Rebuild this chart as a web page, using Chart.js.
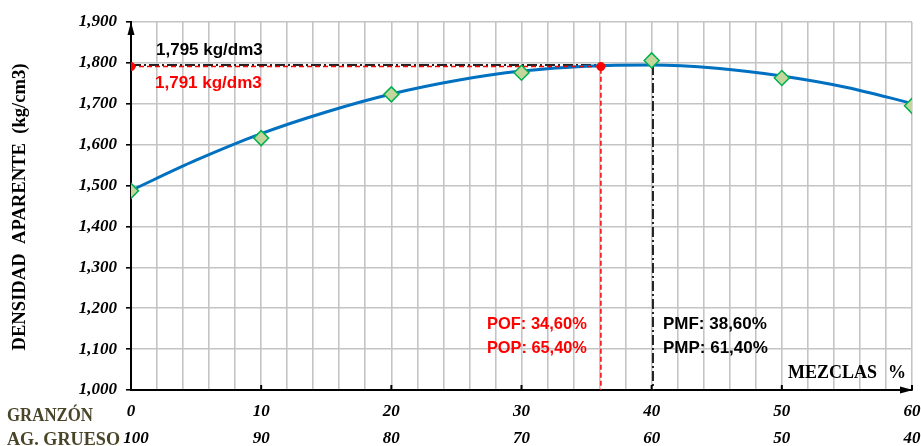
<!DOCTYPE html>
<html>
<head>
<meta charset="utf-8">
<script src="https://cdn.jsdelivr.net/npm/chart.js@4"></script>
<style>
  html, body { margin: 0; padding: 0; background: #fff; }
  #wrap { width: 921px; height: 446px; position: relative; }
</style>
</head>
<body>
<div id="wrap"><canvas id="densidadChart"></canvas></div>
<script>
// % de granzón en la mezcla y su complemento de agregado grueso
const mezclas = [0, 10, 20, 30, 40, 50, 60];
const agGrueso = [100, 90, 80, 70, 60, 50, 40];
// densidad aparente medida (kg/dm3)
const densidad = [1.487, 1.616, 1.723, 1.776, 1.806, 1.763, 1.695];
// curva de ajuste
const curvaX = [0, 5, 10, 15, 20, 25, 30, 35, 40, 45, 50, 55, 60];
const curvaY = [1.488, 1.562, 1.627, 1.680, 1.724, 1.757, 1.780, 1.792, 1.795, 1.787, 1.768, 1.740, 1.701];
// lineas guia
const optimoX = 36.1;
const optimoY = 1.791;
const maximoX = 40.1;
const maximoY = 1.795;
const yTicks = [1.0, 1.1, 1.2, 1.3, 1.4, 1.5, 1.6, 1.7, 1.8, 1.9];

const textoMaximo = "1,795 kg/dm3";
const textoOptimo = "1,791 kg/dm3";
const textoPOF = "POF: 34,60%";
const textoPOP = "POP: 65,40%";
const textoPMF = "PMF: 38,60%";
const textoPMP = "PMP: 61,40%";

const serifBoldItalic = 'italic bold 17px "Liberation Serif"';
const sansBold = 'bold 17px "Liberation Sans"';

const decorPlugin = {
  id: 'decor',
  afterDraw(chart) {
    const ctx = chart.ctx;
    const xs = chart.scales.x;
    const ys = chart.scales.y;
    const area = chart.chartArea;
    ctx.save();

    // flechas de los ejes
    ctx.fillStyle = '#000';
    ctx.beginPath();
    ctx.moveTo(area.left, area.top);
    ctx.lineTo(area.left - 3.5, area.top + 13);
    ctx.lineTo(area.left + 3.5, area.top + 13);
    ctx.closePath();
    ctx.fill();
    ctx.beginPath();
    ctx.moveTo(area.right + 1, area.bottom);
    ctx.lineTo(area.right - 12, area.bottom - 3.5);
    ctx.lineTo(area.right - 12, area.bottom + 3.5);
    ctx.closePath();
    ctx.fill();

    // marcas del eje x cada 10
    ctx.strokeStyle = '#000';
    ctx.lineWidth = 2;
    mezclas.forEach(v => {
      const px = xs.getPixelForValue(v);
      ctx.beginPath();
      ctx.moveTo(px, area.bottom);
      ctx.lineTo(px, area.bottom - 5);
      ctx.stroke();
    });

    // etiquetas del eje x (dos filas)
    ctx.font = serifBoldItalic;
    ctx.fillStyle = '#000';
    ctx.textAlign = 'center';
    ctx.textBaseline = 'middle';
    mezclas.forEach((v, i) => {
      const px = xs.getPixelForValue(v);
      ctx.fillText(String(v), px, area.bottom + 22);
      const shift = i === 0 ? 5 : 0;
      ctx.fillText(String(agGrueso[i]), px + shift, area.bottom + 49);
    });

    ctx.font = 'bold 19px "Liberation Serif"';
    ctx.fillStyle = '#4a4528';
    ctx.textAlign = 'left';
    ctx.fillText('GRANZÓN', 7, area.bottom + 26, 86);
    ctx.fillText('AG. GRUESO', 7, area.bottom + 50, 113);

    // titulo del eje y
    ctx.save();
    ctx.fillStyle = '#000';
    ctx.translate(20, (area.top + area.bottom) / 2 + 1);
    ctx.rotate(-Math.PI / 2);
    ctx.textAlign = 'center';
    ctx.fillText('DENSIDAD  APARENTE  (kg/cm3)', 0, 0, 287);
    ctx.restore();

    // MEZCLAS %
    ctx.font = 'bold 18px "Liberation Serif"';
    ctx.fillStyle = '#000';
    ctx.textAlign = 'left';
    ctx.fillText('MEZCLAS', 788, area.bottom - 17, 90);
    ctx.fillText('%', 888, area.bottom - 17);

    // textos de valores
    ctx.font = sansBold;
    ctx.fillStyle = '#000';
    ctx.fillText(textoMaximo, area.left + 25, ys.getPixelForValue(maximoY) - 15, 112);
    ctx.fillStyle = '#ff0000';
    ctx.fillText(textoOptimo, area.left + 24, ys.getPixelForValue(optimoY) + 17, 112);

    const xo = xs.getPixelForValue(optimoX);
    const xm = xs.getPixelForValue(maximoX);
    ctx.textAlign = 'right';
    ctx.fillText(textoPOF, xo - 14, 324, 100);
    ctx.fillText(textoPOP, xo - 14, 348, 100);
    ctx.fillStyle = '#000';
    ctx.textAlign = 'left';
    ctx.fillText(textoPMF, xm + 10, 324, 106);
    ctx.fillText(textoPMP, xm + 10, 348, 107);

    ctx.restore();
  }
};

const ctx = document.getElementById('densidadChart');

new Chart(ctx, {
  type: 'scatter',
  data: {
    datasets: [
      {
        label: 'Densidad',
        data: mezclas.map((x, i) => ({ x, y: densidad[i] })),
        showLine: false,
        pointStyle: 'rectRot',
        pointRadius: 7.5,
        backgroundColor: '#c3d69b',
        borderColor: '#00b050',
        borderWidth: 1.5,
        order: 0
      },
      {
        label: 'Optimo',
        data: [
          { x: 0, y: optimoY },
          { x: optimoX, y: optimoY },
          { x: optimoX, y: 1.0 }
        ],
        showLine: true,
        borderColor: '#ff0000',
        borderWidth: 1.5,
        borderDash: [5, 3],
        pointRadius: [4.5, 4.5, 0],
        pointBackgroundColor: '#ff0000',
        pointBorderWidth: 0,
        order: 1
      },
      {
        label: 'Curva',
        data: curvaX.map((x, i) => ({ x, y: curvaY[i] })),
        showLine: true,
        borderColor: '#0070c0',
        borderWidth: 3,
        pointRadius: 0,
        cubicInterpolationMode: 'monotone',
        order: 2
      },
      {
        label: 'Maximo',
        data: [
          { x: 0, y: maximoY },
          { x: maximoX, y: maximoY },
          { x: maximoX, y: 1.0 }
        ],
        showLine: true,
        borderColor: '#222222',
        borderWidth: 2,
        borderDash: [10, 3, 2, 3],
        pointRadius: 0,
        order: 3
      }
    ]
  },
  options: {
    responsive: true,
    maintainAspectRatio: false,
    animation: false,
    layout: { padding: { left: 0, right: 9, top: 22, bottom: 0 } },
    plugins: {
      legend: { display: false },
      tooltip: { enabled: false }
    },
    scales: {
      x: {
        type: 'linear',
        min: 0,
        max: 60,
        ticks: { stepSize: 2, display: false },
        grid: { color: '#c4c4c4', lineWidth: 1.6, drawTicks: false },
        border: { color: '#000', width: 2 },
        afterFit(scale) { scale.height = 56; }
      },
      y: {
        min: 1.0,
        max: 1.9,
        afterBuildTicks(scale) {
          scale.ticks = yTicks.map(v => ({ value: v }));
        },
        ticks: {
          padding: 9,
          color: '#000',
          font: { family: 'Liberation Serif', size: 17, style: 'italic', weight: 'bold' },
          callback: v => Number(v).toFixed(3).replace('.', ',')
        },
        grid: { color: '#c4c4c4', lineWidth: 1.6, tickLength: 5, tickColor: '#000' },
        border: { color: '#000', width: 2 },
        afterFit(scale) { scale.width = 131; }
      }
    }
  },
  plugins: [decorPlugin]
});
</script>
</body>
</html>
